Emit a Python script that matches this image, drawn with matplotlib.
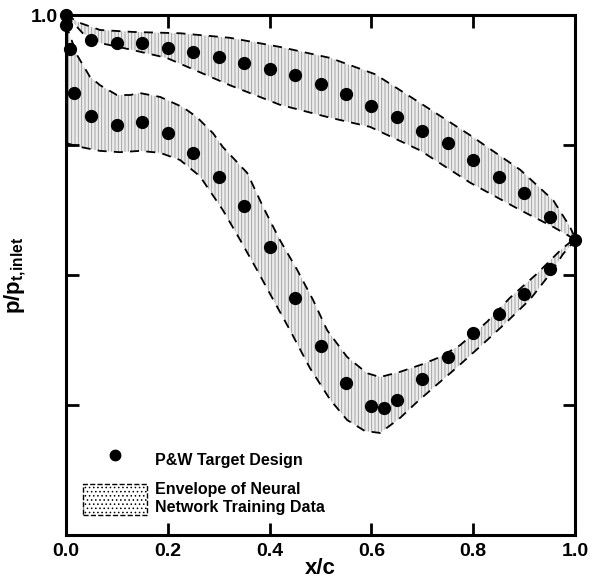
import matplotlib
matplotlib.use("Agg")
import matplotlib.pyplot as plt
import numpy as np
from matplotlib.lines import Line2D
from matplotlib.patches import Patch

# P&W target design, pressure side (upper curve)
upper_x = [0.0, 0.05, 0.10, 0.15, 0.20, 0.25, 0.30, 0.35, 0.40, 0.45, 0.50,
           0.55, 0.60, 0.65, 0.70, 0.75, 0.80, 0.85, 0.90, 0.95, 1.00]
upper_p = [1.000, 0.962, 0.957, 0.957, 0.949, 0.943, 0.935, 0.926, 0.917, 0.908, 0.894,
           0.878, 0.860, 0.843, 0.822, 0.803, 0.777, 0.751, 0.726, 0.689, 0.654]

# P&W target design, suction side (lower curve)
lower_x = [0.0, 0.008, 0.016, 0.05, 0.10, 0.15, 0.20, 0.25, 0.30, 0.35, 0.40, 0.45,
           0.50, 0.55, 0.60, 0.625, 0.65, 0.70, 0.75, 0.80, 0.85, 0.90, 0.95]
lower_p = [0.985, 0.948, 0.880, 0.845, 0.831, 0.835, 0.818, 0.788, 0.751, 0.706, 0.643, 0.565,
           0.491, 0.434, 0.398, 0.395, 0.408, 0.440, 0.474, 0.511, 0.540, 0.571, 0.609]

# envelope of training data, upper band
env1_top_x = [0.0, 0.027, 0.067, 0.132, 0.224, 0.322, 0.420, 0.519, 0.607, 0.695,
              0.794, 0.892, 0.957, 0.990, 1.0]
env1_top_p = [1.0, 0.988, 0.977, 0.974, 0.972, 0.965, 0.951, 0.934, 0.909, 0.865,
              0.815, 0.762, 0.715, 0.674, 0.657]
env1_bot_x = [0.0, 0.033, 0.067, 0.132, 0.198, 0.263, 0.322, 0.420, 0.519, 0.597,
              0.695, 0.794, 0.892, 0.957, 0.984, 1.0]
env1_bot_p = [1.0, 0.972, 0.957, 0.946, 0.934, 0.912, 0.892, 0.862, 0.842, 0.828,
              0.792, 0.742, 0.700, 0.674, 0.662, 0.654]

# envelope of training data, lower band
env2_top_x = [0.0, 0.022, 0.047, 0.067, 0.100, 0.126, 0.145, 0.185, 0.230, 0.257,
              0.289, 0.308, 0.356, 0.387, 0.420, 0.454, 0.485, 0.513, 0.552, 0.591,
              0.617, 0.656, 0.701, 0.735, 0.774, 0.827, 0.872, 0.925, 0.971, 1.0]
env2_top_p = [0.985, 0.938, 0.905, 0.892, 0.877, 0.877, 0.880, 0.874, 0.858, 0.843,
              0.818, 0.797, 0.757, 0.705, 0.654, 0.608, 0.562, 0.515, 0.474, 0.449,
              0.443, 0.451, 0.463, 0.474, 0.492, 0.528, 0.565, 0.602, 0.638, 0.657]
env2_bot_x = [0.0, 0.028, 0.067, 0.106, 0.145, 0.185, 0.224, 0.263, 0.308, 0.342,
              0.375, 0.407, 0.440, 0.479, 0.519, 0.552, 0.587, 0.617, 0.656, 0.690,
              0.725, 0.768, 0.819, 0.866, 0.912, 0.951, 0.976, 1.0]
env2_bot_p = [0.803, 0.797, 0.791, 0.789, 0.791, 0.788, 0.777, 0.752, 0.700, 0.654,
              0.608, 0.562, 0.515, 0.457, 0.408, 0.377, 0.360, 0.357, 0.380, 0.405,
              0.429, 0.458, 0.494, 0.528, 0.563, 0.602, 0.632, 0.654]

plt.rcParams['font.family'] = ['Liberation Sans', 'DejaVu Sans']
plt.rcParams['font.weight'] = 'bold'
plt.rcParams['mathtext.fontset'] = 'custom'
plt.rcParams['mathtext.bf'] = 'Liberation Sans:bold'
plt.rcParams['mathtext.rm'] = 'Liberation Sans:bold'
plt.rcParams['hatch.linewidth'] = 0.6

fig = plt.figure(figsize=(5.92, 5.79), dpi=100)
ax = fig.add_axes([0.1115, 0.076, 0.860, 0.898])

band_style = dict(facecolor='#ececec', edgecolor='#9a9a9a', linewidth=0, hatch='|||||')
dash = dict(color='black', linestyle=(0, (5, 4)), linewidth=1.3)

for tx, tp, bx, bp in [(env1_top_x, env1_top_p, env1_bot_x, env1_bot_p),
                       (env2_top_x, env2_top_p, env2_bot_x, env2_bot_p)]:
    poly_x = np.concatenate([tx, bx[::-1]])
    poly_p = np.concatenate([tp, bp[::-1]])
    ax.fill(poly_x, poly_p, zorder=1, **band_style)
    ax.plot(tx, tp, zorder=2, **dash)
    ax.plot(bx, bp, zorder=2, **dash)

ax.plot(upper_x, upper_p, 'o', color='black', ms=8.5, zorder=3, clip_on=False)
ax.plot(lower_x, lower_p, 'o', color='black', ms=8.5, zorder=3, clip_on=False)

ax.set_xlim(0.0, 1.0)
ax.set_ylim(0.2, 1.0)
ax.set_xticks([0.0, 0.2, 0.4, 0.6, 0.8, 1.0])
ax.set_xticklabels(['0.0', '0.2', '0.4', '0.6', '0.8', '1.0'])
ax.set_yticks([0.2, 0.4, 0.6, 0.8, 1.0])
ax.set_yticklabels(['', '', '', '', '1.0'])
ax.tick_params(direction='in', length=9, width=2, top=True, right=True,
               labelsize=14, pad=6)
for sp in ax.spines.values():
    sp.set_linewidth(2.2)

ax.set_xlabel('x/c', fontsize=16, fontweight='bold')
ax.xaxis.set_label_coords(0.5, -0.045)
ax.set_ylabel(r'$\mathbf{p/p_{t,\!inlet}}$', fontsize=16)
ax.yaxis.set_label_coords(-0.075, 0.5)

handles = [Line2D([], [], marker='o', color='black', linestyle='none', ms=7.5),
           Patch(facecolor='white', edgecolor='black', linestyle='--', linewidth=1,
                 hatch='....')]
labels = ['P&W Target Design', 'Envelope of Neural\nNetwork Training Data']
ax.legend(handles, labels, loc='lower left', bbox_to_anchor=(0.033, 0.038),
          frameon=False, borderpad=0, borderaxespad=0, handlelength=4.0,
          handleheight=2.6, handletextpad=0.5, labelspacing=0.4,
          prop={'size': 11.5, 'weight': 'bold'})

fig.savefig('out.png', dpi=100)
